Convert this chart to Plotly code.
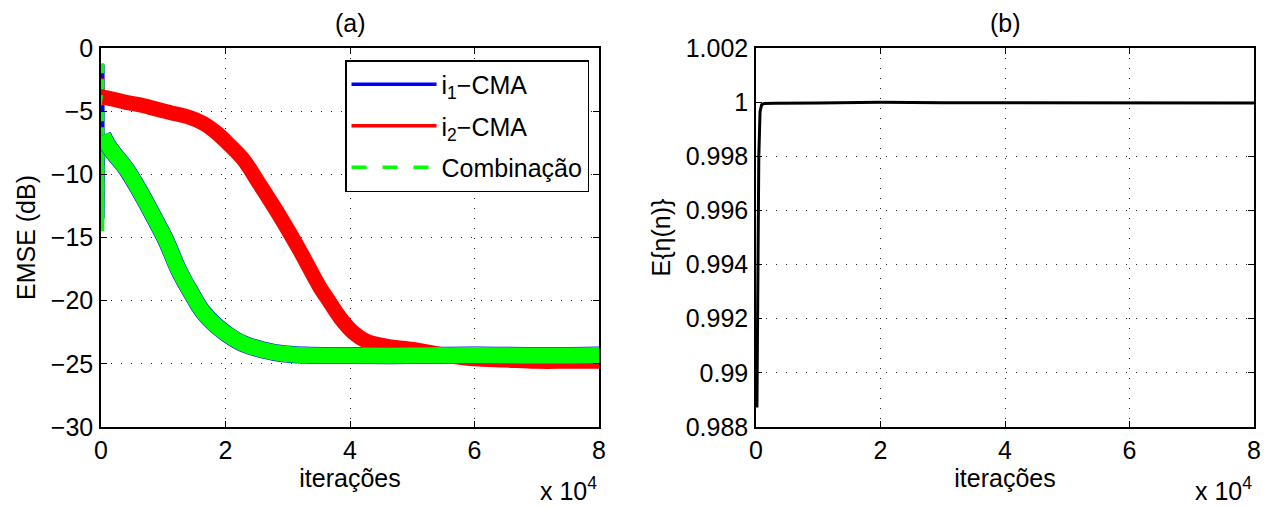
import plotly.graph_objects as go

# ---------------- data ----------------
# (a) EMSE curves, x in iterations
i1_x = [300, 1000, 2000, 4100, 6300, 8400, 10500, 12400, 14500, 16400, 18540,
        20680, 22820, 26030, 29240, 32430, 40000, 50000, 60000, 70000, 80000]
i1_y = [-6.9, -7.6, -8.3, -9.6, -11.4, -13.3, -15.3, -17.5, -19.4, -20.9, -22.0,
        -22.8, -23.4, -23.9, -24.2, -24.3, -24.35, -24.35, -24.3, -24.35, -24.3]
i1_start_x = [250, 250, 300]
i1_start_y = [-1.3, -13.5, -6.9]

i2_x = [300, 1500, 4000, 6300, 7850, 11060, 14270, 16400, 18540, 20680, 22820,
        25490, 28700, 31900, 35110, 36450, 38340, 40470, 42600, 45800, 50600,
        55000, 60000, 65000, 70000, 75000, 80000]
i2_y = [-3.9, -4.0, -4.3, -4.5, -4.7, -5.1, -5.5, -5.95, -6.7, -7.7, -8.8,
        -10.8, -13.3, -16.0, -18.9, -19.9, -21.3, -22.5, -23.2, -23.6, -23.9,
        -24.3, -24.6, -24.7, -24.8, -24.8, -24.8]
i2_start_x = [200, 200, 300]
i2_start_y = [-2.4, -4.0, -3.9]

comb_x = [300, 1000, 2000, 4100, 6300, 8400, 10500, 12400, 14500, 16400, 18540,
          20680, 22820, 26030, 29240, 32430, 40000, 50000, 60000, 70000, 80000]
comb_y = [-6.9, -7.6, -8.3, -9.6, -11.4, -13.3, -15.3, -17.5, -19.4, -20.9, -22.0,
          -22.8, -23.4, -23.9, -24.2, -24.3, -24.35, -24.35, -24.3, -24.35, -24.3]
comb_start_x = [200, 200, 300]
comb_start_y = [-1.2, -14.5, -6.9]

# (b) E{eta(n)}
eta_x = [150, 200, 300, 450, 650, 900, 1300, 3000, 10000, 20000, 30000, 50000, 80000]
eta_y = [0.98872, 0.9905, 0.9945, 0.9980, 0.99965, 0.99990, 0.99995, 0.99996,
         0.99997, 1.00000, 0.99998, 0.99997, 0.99997]

# ticks
x_tickvals = [0, 20000, 40000, 60000, 80000]
x_ticktext = ["0", "2", "4", "6", "8"]
ya_tickvals = [-30, -25, -20, -15, -10, -5, 0]
ya_ticktext = ["\u221230", "\u221225", "\u221220", "\u221215", "\u221210", "\u22125", "0"]
yb_tickvals = [0.988, 0.990, 0.992, 0.994, 0.996, 0.998, 1.000, 1.002]
yb_ticktext = ["0.988", "0.99", "0.992", "0.994", "0.996", "0.998", "1", "1.002"]

legend_names = ["i<sub>1</sub>\u2212CMA", "i<sub>2</sub>\u2212CMA", "Combina\u00e7\u00e3o"]

# ---------------- figure ----------------
FONT = "Liberation Sans, Arial, Helvetica, sans-serif"
FS = 25
BLUE, RED, GREEN = "#0000ff", "#ff0000", "#00ff00"

fig = go.Figure()

# spikes at the start (thin)
fig.add_trace(go.Scatter(x=i1_start_x, y=i1_start_y, mode="lines",
                         line=dict(color=BLUE, width=4), showlegend=False,
                         xaxis="x", yaxis="y", hoverinfo="skip"))
fig.add_trace(go.Scatter(x=i2_start_x, y=i2_start_y, mode="lines",
                         line=dict(color=RED, width=4), showlegend=False,
                         xaxis="x", yaxis="y", hoverinfo="skip"))
fig.add_trace(go.Scatter(x=comb_start_x, y=comb_start_y, mode="lines",
                         line=dict(color=GREEN, width=4, dash="10px,6px"), showlegend=False,
                         xaxis="x", yaxis="y", hoverinfo="skip"))

# main noisy bands (drawn as thick lines)
fig.add_trace(go.Scatter(x=i1_x, y=i1_y, mode="lines", line=dict(color=BLUE, width=17, shape="spline"),
                         showlegend=False, xaxis="x", yaxis="y"))
fig.add_trace(go.Scatter(x=i2_x, y=i2_y, mode="lines", line=dict(color=RED, width=15, shape="spline"),
                         showlegend=False, xaxis="x", yaxis="y"))
fig.add_trace(go.Scatter(x=comb_x, y=comb_y, mode="lines", line=dict(color=GREEN, width=16, shape="spline"),
                         showlegend=False, xaxis="x", yaxis="y"))

# legend entries
fig.add_trace(go.Scatter(x=[None], y=[None], mode="lines", name=legend_names[0], legendgroup="g1",
                         line=dict(color=BLUE, width=3.5), xaxis="x", yaxis="y"))
fig.add_trace(go.Scatter(x=[None], y=[None], mode="lines", name=legend_names[1], legendgroup="g2",
                         line=dict(color=RED, width=3.5), xaxis="x", yaxis="y"))
fig.add_trace(go.Scatter(x=[None], y=[None], mode="lines", name=legend_names[2], legendgroup="g3",
                         line=dict(color=GREEN, width=3.5, dash="15px,16px"), xaxis="x", yaxis="y"))

# (b)
fig.add_trace(go.Scatter(x=eta_x, y=eta_y, mode="lines", line=dict(color="black", width=3),
                         showlegend=False, xaxis="x2", yaxis="y2"))

axis_common = dict(
    showline=True, linecolor="black", linewidth=1.5, mirror="ticks",
    ticks="inside", ticklen=6, tickwidth=1, tickcolor="black",
    showgrid=True, gridcolor="#222222", gridwidth=1, griddash="1px,9px",
    zeroline=False, tickfont=dict(family=FONT, size=FS, color="black"),
)

# page has an 8px body margin: place the plot areas in page pixels
OFF = 8
W, H = 1283 - 2 * OFF, 509 - OFF
L = 101 - OFF
T = 48 - OFF
R = W - (1254 - OFF)
B = H - (427 - OFF)
pw = W - L - R
ph = H - T - B
dA = [0, (599 - 101) / pw]
dB = [(756 - 101) / pw, 1]

fig.update_layout(
    width=W, height=H,
    margin=dict(l=L, r=R, t=T, b=B),
    paper_bgcolor="white", plot_bgcolor="white",
    font=dict(family=FONT, size=FS, color="black"),
    xaxis=dict(domain=dA, range=[0, 80000], tickvals=x_tickvals, ticktext=x_ticktext,
               anchor="y", title=dict(text="iterações", font=dict(size=FS), standoff=4),
               **axis_common),
    yaxis=dict(domain=[0, 1], range=[-30, 0], tickvals=ya_tickvals, ticktext=ya_ticktext,
               anchor="x", title=dict(text="EMSE (dB)", font=dict(size=FS), standoff=8),
               ticklabelstandoff=1, **axis_common),
    xaxis2=dict(domain=dB, range=[0, 80000], tickvals=x_tickvals, ticktext=x_ticktext,
                anchor="y2", title=dict(text="iterações", font=dict(size=FS), standoff=4),
                **axis_common),
    yaxis2=dict(domain=[0, 1], range=[0.988, 1.002], tickvals=yb_tickvals, ticktext=yb_ticktext,
                anchor="x2", title=dict(text="E{\u03b7(n)}", font=dict(size=FS), standoff=8),
                ticklabelstandoff=1, **axis_common),
    legend=dict(x=(589 - 101) / pw, y=1 - (60 - 48) / ph, xanchor="right", yanchor="top",
                bgcolor="white", bordercolor="black", borderwidth=1.5,
                font=dict(family=FONT, size=FS, color="black"), itemwidth=85,
                traceorder="grouped", tracegroupgap=6),
    showlegend=True,
)

titles = ["(a)", "(b)"]
for dom, t in zip([dA, dB], titles):
    fig.add_annotation(text=t, xref="paper", yref="paper",
                       x=(dom[0] + dom[1]) / 2, y=1 + (48 - 23) / ph,
                       xanchor="center", yanchor="middle", showarrow=False,
                       font=dict(family=FONT, size=FS, color="black"))
    fig.add_annotation(text="x 10<sup>4</sup>", xref="paper", yref="paper",
                       x=dom[1], y=-(489 - 427) / ph,
                       xanchor="right", yanchor="middle", showarrow=False,
                       font=dict(family=FONT, size=FS, color="black"))

fig.write_html("out.html")
